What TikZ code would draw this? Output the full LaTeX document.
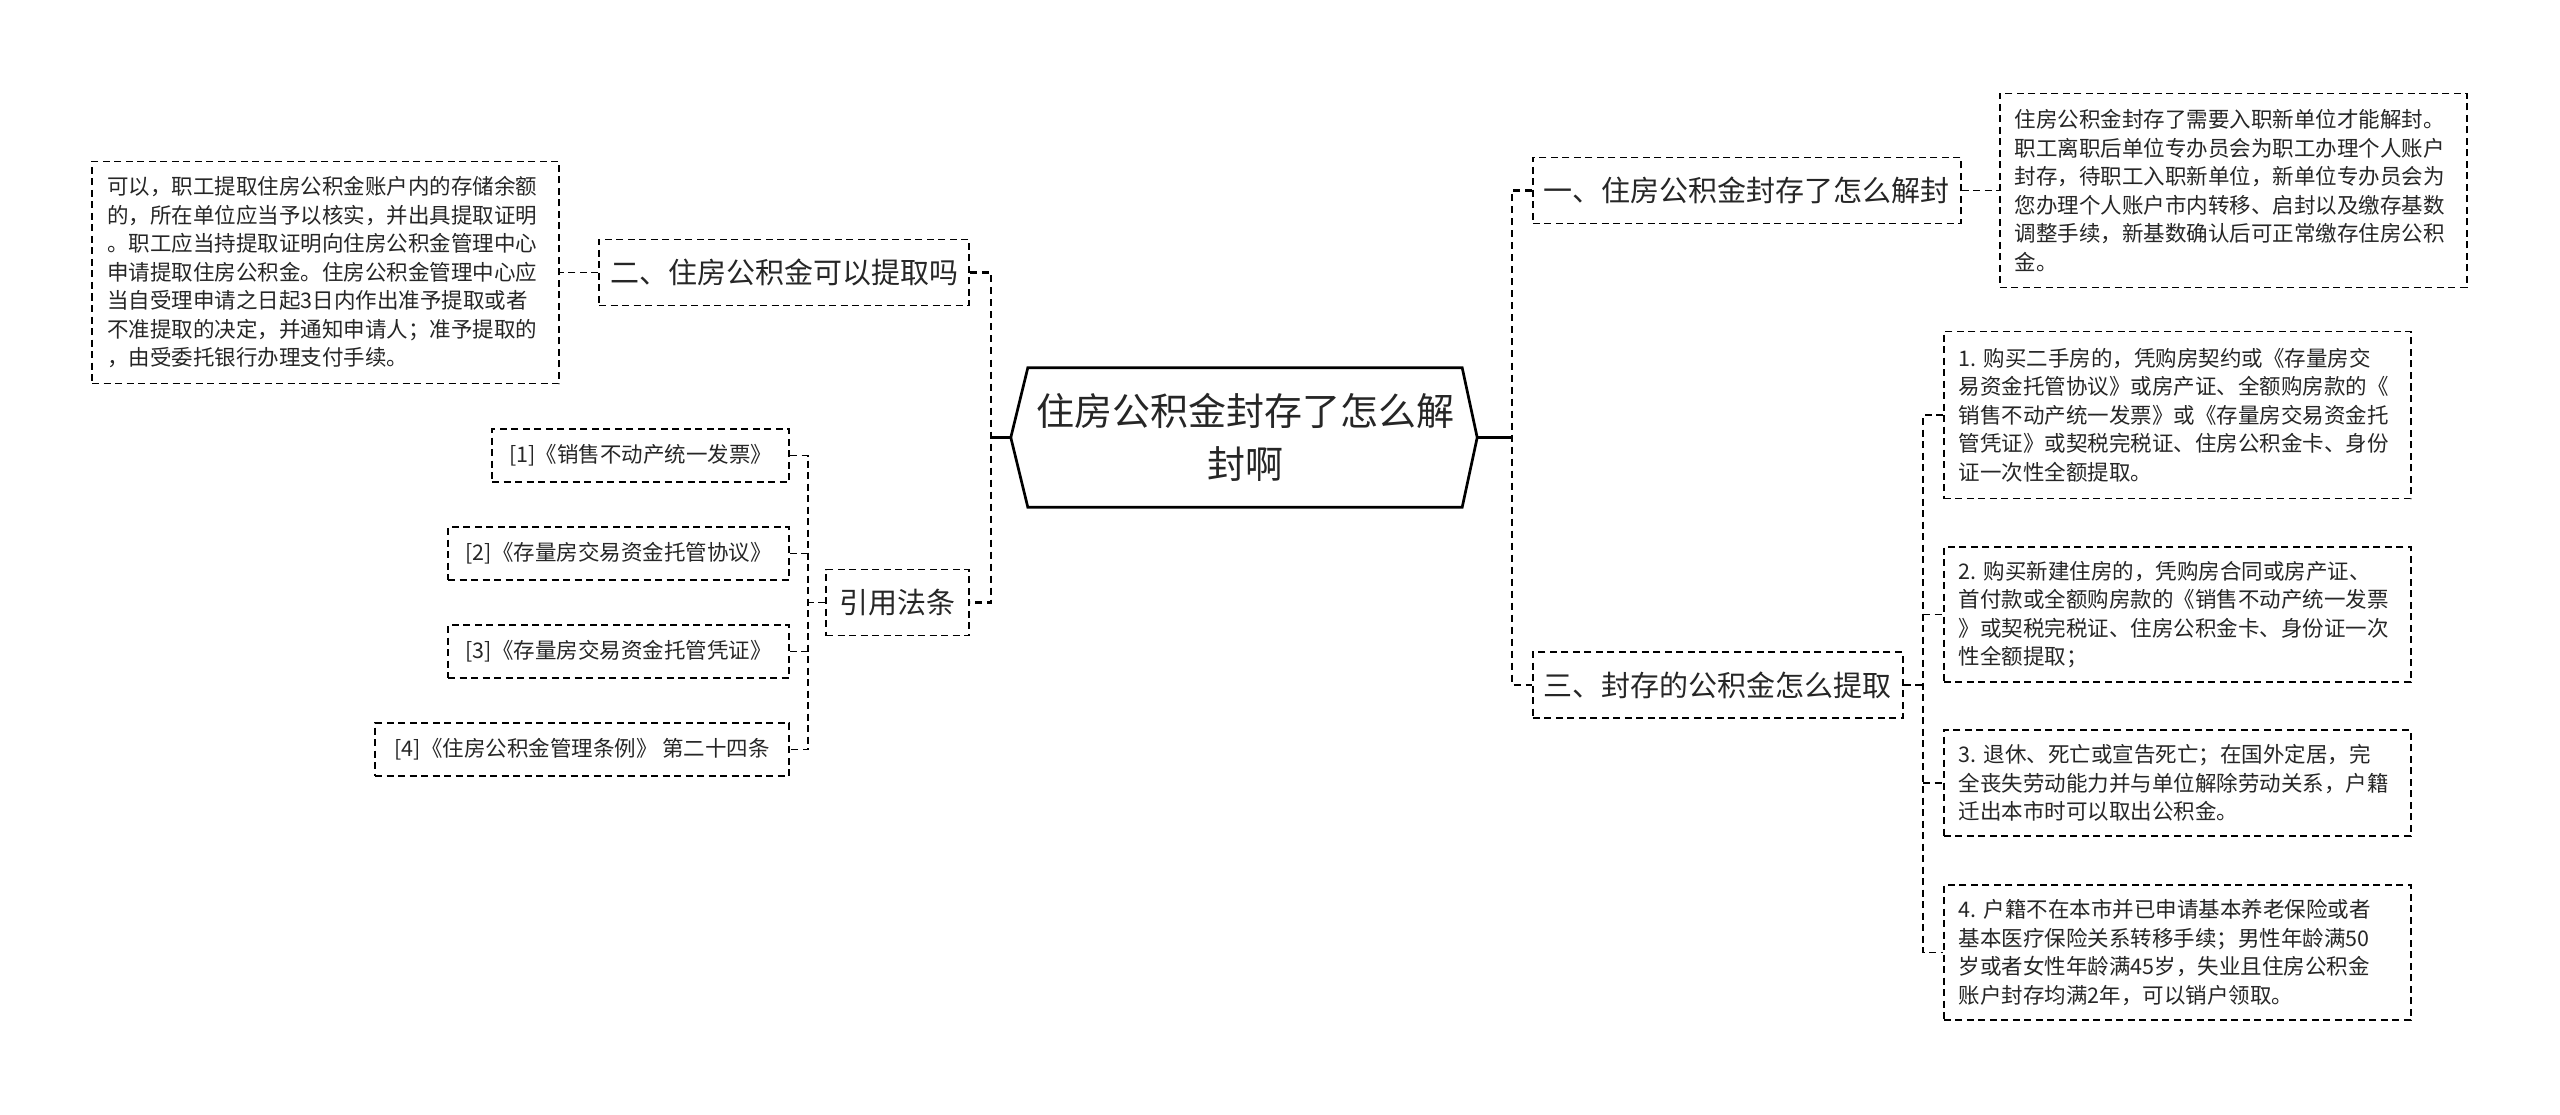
\documentclass[tikz,border=0pt]{standalone}
\usepackage{fontspec}
\setmainfont{Noto Sans CJK SC}
\frenchspacing

\tikzset{
	hub/.style={line width=2.7pt},
	trunk/.style={line width=2.7pt, dash pattern=on 7pt off 5pt},
	twig/.style={line width=1.6pt, dash pattern=on 7pt off 4.5pt},
	topic/.style={draw, twig, font=\fontsize{29}{36}\selectfont, minimum height=66, inner xsep=11, inner ysep=0},
	leaf/.style={draw, twig, font=\fontsize{21.5}{28.5}\selectfont, align=left, inner sep=0},
	note/.style={leaf, text width=437, inner xsep=15},
}

\begin{document}
\begin{tikzpicture}[x=1pt, y=-1pt, text=black!85]
		\useasboundingbox (0,0) rectangle (2560,1115);
		\node (root) [font=\fontsize{38}{53}\selectfont, align=center, minimum width=434, minimum height=139, inner sep=0] at (1245,437.5) {住房公积金封存了怎么解\\封啊};
		\coordinate (rootL) at ([xshift=-17]root.west);
		\coordinate (rootR) at ([xshift=15]root.east);
		\draw[hub] (root.north west) -- (root.north east) -- (rootR) -- (root.south east) -- (root.south west) -- (rootL) -- cycle;

		\node (a1) [topic, anchor=west] at (1532,190.5) {一、住房公积金封存了怎么解封};
		\node (a3) [topic, anchor=west] at (1532,685) {三、封存的公积金怎么提取};
		\node (b2) [topic, anchor=east] at (970,272.5) {二、住房公积金可以提取吗};
		\node (b4) [topic, anchor=east, minimum width=143] at (970,602.5) {引用法条};

		\node (r1) [note, anchor=west, minimum height=194] at (1999,190.5) {住房公积金封存了需要入职新单位才能解封。\\职工离职后单位专办员会为职工办理个人账户\\封存，待职工入职新单位，新单位专办员会为\\您办理个人账户市内转移、启封以及缴存基数\\调整手续，新基数确认后可正常缴存住房公积\\金。};
		\node (c1) [note, anchor=west, minimum height=167] at (1943,415) {1. 购买二手房的，凭购房契约或《存量房交\\易资金托管协议》或房产证、全额购房款的《\\销售不动产统一发票》或《存量房交易资金托\\管凭证》或契税完税证、住房公积金卡、身份\\证一次性全额提取。};
		\node (c2) [note, anchor=west, minimum height=135] at (1943,614.5) {2. 购买新建住房的，凭购房合同或房产证、\\首付款或全额购房款的《销售不动产统一发票\\》或契税完税证、住房公积金卡、身份证一次\\性全额提取；};
		\node (c3) [note, anchor=west, minimum height=106] at (1943,783) {3. 退休、死亡或宣告死亡；在国外定居，完\\全丧失劳动能力并与单位解除劳动关系，户籍\\迁出本市时可以取出公积金。};
		\node (c4) [note, anchor=west, minimum height=135] at (1943,952.5) {4. 户籍不在本市并已申请基本养老保险或者\\基本医疗保险关系转移手续；男性年龄满50\\岁或者女性年龄满45岁，失业且住房公积金\\账户封存均满2年，可以销户领取。};

		\node (l1) [note, anchor=east, minimum height=222] at (560,272.5) {可以，职工提取住房公积金账户内的存储余额\\的，所在单位应当予以核实，并出具提取证明\\。职工应当持提取证明向住房公积金管理中心\\申请提取住房公积金。住房公积金管理中心应\\当自受理申请之日起3日内作出准予提取或者\\不准提取的决定，并通知申请人；准予提取的\\，由受委托银行办理支付手续。};
		\node (d1) [leaf, anchor=east, minimum width=297, minimum height=53] at (790,455.5) {[1]《销售不动产统一发票》};
		\node (d2) [leaf, anchor=east, minimum width=341, minimum height=53] at (790,553.5) {[2]《存量房交易资金托管协议》};
		\node (d3) [leaf, anchor=east, minimum width=341, minimum height=53] at (790,651.5) {[3]《存量房交易资金托管凭证》};
		\node (d4) [leaf, anchor=east, minimum width=414, minimum height=53] at (790,749.5) {[4]《住房公积金管理条例》 第二十四条};

		\coordinate (lhub) at (991,437.5);
		\coordinate (rhub) at (1512,437.5);
		\coordinate (lfork) at (808,602.5);
		\coordinate (rfork) at (1923,685);

		\draw[hub] (rootL) -- (lhub);
		\draw[hub] (rootR) -- (rhub);
		\draw[trunk] (b2.east) -| (lhub) |- (b4.east);
		\draw[trunk] (a1.west) -| (rhub) |- (a3.west);

		\draw[twig] (a1.east) -- (r1.west);
		\draw[twig] (b2.west) -- (l1.east);

		\draw[twig] (a3.east) -- (rfork);
		\draw[twig] (c1.west) -| (rfork) |- (c4.west);
		\foreach \n in {c2,c3}
			\draw[twig] (rfork |- \n.west) -- (\n.west);

		\draw[twig] (b4.west) -- (lfork);
		\draw[twig] (d1.east) -| (lfork) |- (d4.east);
		\foreach \n in {d2,d3}
			\draw[twig] (lfork |- \n.east) -- (\n.east);
	\end{tikzpicture}
\end{document}
